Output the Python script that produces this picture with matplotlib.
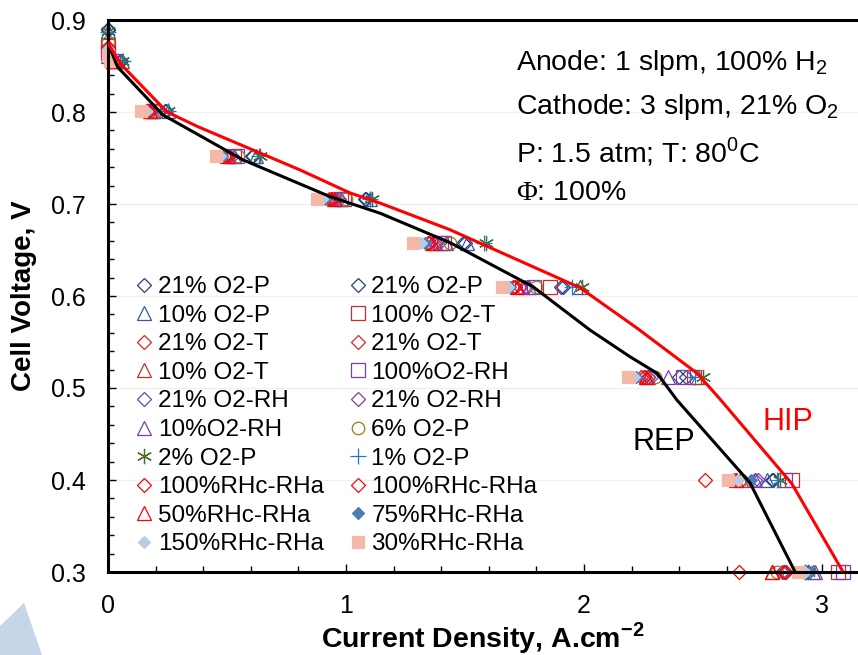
import matplotlib
matplotlib.use('Agg')
import matplotlib.pyplot as plt
from matplotlib.ticker import MultipleLocator
from matplotlib.patches import Polygon

plt.rcParams['font.family'] = ['Liberation Sans', 'DejaVu Sans']
plt.rcParams['mathtext.fontset'] = 'custom'
plt.rcParams['mathtext.rm'] = 'Liberation Serif'
plt.rcParams['mathtext.sf'] = 'Liberation Sans'
plt.rcParams['mathtext.bf'] = 'Liberation Sans:bold'

# voltage steps of the polarisation runs (first point of each run is OCV at 0 A/cm2)
volt_steps = [0.855, 0.801, 0.752, 0.705, 0.658, 0.61, 0.512, 0.40, 0.30]

labels = ['21% O2-P', '21% O2-P', '10% O2-P', '100% O2-T', '21% O2-T', '21% O2-T',
          '10% O2-T', '100%O2-RH', '21% O2-RH', '21% O2-RH', '10%O2-RH', '6% O2-P',
          '2% O2-P', '1% O2-P', '100%RHc-RHa', '100%RHc-RHa', '50%RHc-RHa',
          '75%RHc-RHa', '150%RHc-RHa', '30%RHc-RHa']

ocv = [0.890, 0.889, 0.888, 0.872, 0.870, 0.869, 0.868, 0.864, 0.863, 0.862,
       0.861, 0.876, 0.888, 0.887, 0.871, 0.870, 0.869, 0.870, 0.868, 0.862]

currents = [
    [0.05, 0.24, 0.605, 1.08, 1.49, 1.905, 2.40, 2.795, 2.93],
    [0.055, 0.245, 0.61, 1.085, 1.50, 1.91, 2.43, 2.79, 2.94],
    [0.06, 0.25, 0.62, 1.10, 1.51, 1.985, 2.48, 2.768, 2.96],
    [0.02, 0.19, 0.53, 0.98, 1.40, 1.857, 2.46, 2.873, 3.067],
    [0.02, 0.17, 0.49, 0.935, 1.35, 1.71, 2.25, 2.64, 2.845],
    [0.02, 0.18, 0.51, 0.95, 1.37, 1.73, 2.27, 2.66, 2.85],
    [0.02, 0.18, 0.51, 0.955, 1.375, 1.74, 2.27, 2.66, 2.79],
    [0.02, 0.19, 0.54, 0.99, 1.41, 1.79, 2.416, 2.845, 3.088],
    [0.02, 0.175, 0.51, 0.96, 1.38, 1.75, 2.27, 2.73, 2.83],
    [0.02, 0.18, 0.52, 0.97, 1.39, 1.76, 2.28, 2.72, 2.84],
    [0.02, 0.19, 0.53, 0.98, 1.42, 1.77, 2.353, 2.72, 2.97],
    [0.015, 0.20, 0.547, 1.00, 1.437, 1.80, 2.30, 2.66, 2.81],
    [0.06, 0.252, 0.639, 1.109, 1.59, 1.99, 2.50, 2.823, 2.94],
    [0.065, 0.25, 0.635, 1.10, 1.58, 1.95, 2.465, 2.81, 2.93],
    [0.02, 0.17, 0.49, 0.93, 1.345, 1.70, 2.25, 2.51, 2.65],
    [0.02, 0.17, 0.50, 0.94, 1.35, 1.71, 2.24, 2.63, 2.84],
    [0.02, 0.175, 0.50, 0.95, 1.36, 1.72, 2.26, 2.64, 2.79],
    [0.02, 0.16, 0.48, 0.91, 1.33, 1.69, 2.22, 2.70, 2.95],
    [0.02, 0.16, 0.47, 0.90, 1.315, 1.68, 2.21, 2.645, 2.93],
    [0.01, 0.14, 0.455, 0.88, 1.28, 1.655, 2.185, 2.605, 2.90],
]

# model curves
rep_x = [0.0, 0.04, 0.23, 0.567, 0.933, 1.143, 1.437, 1.786, 2.025, 2.193, 2.307, 2.39, 2.697, 2.887]
rep_v = [0.875, 0.849, 0.797, 0.748, 0.708, 0.69, 0.658, 0.61, 0.563, 0.534, 0.516, 0.487, 0.397, 0.30]
hip_x = [0.0, 0.05, 0.248, 0.378, 0.807, 1.017, 1.143, 1.437, 1.983, 2.223, 2.475, 2.571, 2.873, 3.084]
hip_v = [0.875, 0.853, 0.80, 0.784, 0.737, 0.712, 0.701, 0.672, 0.609, 0.565, 0.516, 0.488, 0.396, 0.302]

navy = '#243f86'
navy2 = '#3b5797'
dred = '#d02a2a'
red = '#ff0000'
purple = '#7a3fae'
styles = [
    ('D', navy, False), ('D', navy, False), ('^', navy2, False),
    ('s', dred, False), ('D', dred, False), ('D', dred, False), ('^', dred, False),
    ('s', purple, False), ('D', purple, False), ('D', purple, False), ('^', purple, False),
    ('o', '#9b7a1e', False), ((6, 2, 0), '#4b6a2b', False), ('+', '#1e78cc', False),
    ('D', red, False), ('D', red, False), ('^', red, False),
    ('D', '#4a7db3', True), ('D', '#b8cde4', True), ('s', '#f4b8a8', True),
]
sizes = {'D': 7.5, '^': 9.5, 's': 9.5, 'o': 9, '+': 11}

fig = plt.figure(figsize=(8.58, 6.55), dpi=100)
ax = fig.add_axes([108 / 858, 1 - 572 / 655, 750 / 858, 552 / 655])

handles = []
for i in range(len(labels)):
    mk, col, filled = styles[i]
    size = sizes.get(mk, 11) if isinstance(mk, str) else 11
    if filled and mk == 'D':
        size = 6.5
    if filled and mk == 's':
        size = 8.5
    h, = ax.plot([0.0] + currents[i], [ocv[i]] + volt_steps, ls='none', marker=mk,
                 ms=size, mfc=col if filled else 'none', mec=col, mew=0.9,
                 clip_on=False, zorder=2, label=labels[i])
    handles.append(h)

ax.plot(rep_x, rep_v, color='black', lw=2.2, zorder=3)
ax.plot(hip_x, hip_v, color='#ff0000', lw=2.2, zorder=3)

ax.text(2.466, 0.441, 'REP', fontsize=22, color='black', ha='right', va='center')
ax.text(2.748, 0.4625, 'HIP', fontsize=22, color='#ff0000', ha='left', va='center')

info = ['Anode: 1 slpm, 100% H$_\\mathsf{2}$',
        'Cathode: 3 slpm, 21% O$_\\mathsf{2}$',
        'P: 1.5 atm; T: 80$^\\mathsf{0}$C',
        '$\\Phi$: 100%']
info_y = [0.922, 0.842, 0.762, 0.686]
for t, yy in zip(info, info_y):
    ax.text(0.544, yy, t, transform=ax.transAxes, fontsize=20.5, ha='left', va='center')

order = list(range(0, 20, 2)) + list(range(1, 20, 2))
ax.legend([handles[i] for i in order], [labels[i] for i in order], ncol=2,
          frameon=False, loc='upper left', bbox_to_anchor=(0.036, 0.536),
          fontsize=17.5, handlelength=0.75, handletextpad=0.2, columnspacing=1.0,
          labelspacing=0.27, borderpad=0, borderaxespad=0)

ax.set_xlim(0, 3.151)
ax.set_ylim(0.3, 0.9)
ax.xaxis.set_major_locator(MultipleLocator(1))
ax.xaxis.set_minor_locator(MultipleLocator(0.2))
ax.yaxis.set_major_locator(MultipleLocator(0.1))
ax.yaxis.set_minor_locator(MultipleLocator(0.02))
ax.tick_params(which='both', direction='in', width=1, labelsize=18, pad=16,
               top=False, right=False)
ax.tick_params(which='major', length=6)
ax.tick_params(which='minor', length=4.5)
ax.grid(axis='y', which='major', color='#f0f0f0', lw=1)
ax.set_axisbelow(True)

for s in ['left', 'bottom', 'top']:
    ax.spines[s].set_linewidth(2.2)
ax.spines['right'].set_visible(False)

ax.set_xlabel('Current Density, A.cm$^{\\mathbf{-2}}$', fontsize=20.5, fontweight='bold')
ax.set_ylabel('Cell Voltage, V', fontsize=20, fontweight='bold')
ax.xaxis.set_label_coords(0.5, -0.088)
ax.yaxis.set_label_coords(-0.095, 0.5)

# light blue watermark fragment at the lower-left corner
W, H = 858, 655
corner = [(0, 655), (0, 626), (24, 603), (42, 655)]
fig.patches.append(Polygon([(px / W, 1 - py / H) for px, py in corner], closed=True,
                           transform=fig.transFigure, facecolor='#c5d6e8', edgecolor='none'))

fig.savefig('out.png', dpi=100)
